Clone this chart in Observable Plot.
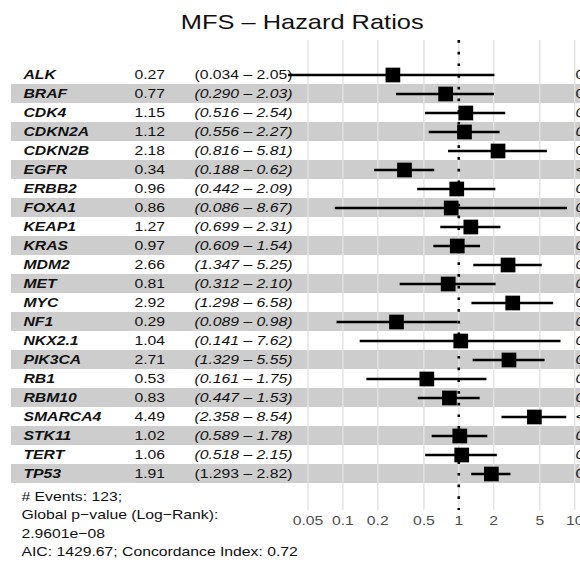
<!DOCTYPE html>
<html>
<head>
<meta charset="utf-8">
<script src="https://cdn.jsdelivr.net/npm/d3@7"></script>
<script src="https://cdn.jsdelivr.net/npm/@observablehq/plot@0.6"></script>
<style>
  html, body { margin: 0; padding: 0; background: #fff; }
  #chart svg { display: block; }
</style>
</head>
<body>
<div id="chart"></div>
<script>
// Cox model results, one row per gene
const genes = ["ALK","BRAF","CDK4","CDKN2A","CDKN2B","EGFR","ERBB2","FOXA1","KEAP1","KRAS","MDM2",
               "MET","MYC","NF1","NKX2.1","PIK3CA","RB1","RBM10","SMARCA4","STK11","TERT","TP53"];
const hazardRatio = [0.27,0.77,1.15,1.12,2.18,0.34,0.96,0.86,1.27,0.97,2.66,
                     0.81,2.92,0.29,1.04,2.71,0.53,0.83,4.49,1.02,1.06,1.91];
const ciLower = [0.034,0.290,0.516,0.556,0.816,0.188,0.442,0.086,0.699,0.609,1.347,
                 0.312,1.298,0.089,0.141,1.329,0.161,0.447,2.358,0.589,0.518,1.293];
const ciUpper = [2.05,2.03,2.54,2.27,5.81,0.62,2.09,8.67,2.31,1.54,5.25,
                 2.10,6.58,0.98,7.62,5.55,1.75,1.53,8.54,1.78,2.15,2.82];
const pLabels = ["0.207","0.598","0.731","0.752","0.120","<0.001 ***","0.917","0.896","0.433","0.893","0.005 **",
                 "0.667","0.010 *","0.043 *","0.970","0.006 **","0.296","0.553","<0.001 ***","0.942","0.870","0.001 **"];

// log-scale axis ticks
const tickValues = [0.05, 0.1, 0.2, 0.5, 1, 2, 5, 10];
const tickLabels = ["0.05", "0.1", "0.2", "0.5", "1", "2", "5", "10"];

const title = "MFS – Hazard Ratios";
const footerLines = [
  "# Events: 123;",
  "Global p−value (Log−Rank):",
  "2.9601e−08",
  "AIC: 1429.67; Concordance Index: 0.72"
];

// rows whose CI / p-value text is set upright rather than italic
const uprightCi = new Set(["ALK", "TP53"]);
const uprightP = new Set(["ALK", "BRAF", "CDKN2B", "TP53"]);

const rows = genes.map((gene, i) => ({
  gene,
  hr: hazardRatio[i],
  lo: ciLower[i],
  hi: ciUpper[i],
  p: pLabels[i],
  hrText: hazardRatio[i].toFixed(2),
  ciText: `(${ciLower[i].toFixed(3)} – ${ciUpper[i].toFixed(2)})`
}));
const striped = rows.filter((d, i) => i % 2 === 1);
const ticks = tickValues.map((v, i) => ({v, label: tickLabels[i]}));

const fs = 13;
const textCol = (data, field, dx, extra = {}) =>
  Plot.text(data, {y: "gene", text: field, frameAnchor: "left", textAnchor: "start",
                   lineAnchor: "middle", dx, fontSize: fs, fill: "#111", ...extra});

const marks = [
  // alternating row shading
  Plot.cell(striped, {y: "gene", fill: "#cdcdcd"}),
  // vertical grid
  Plot.ruleX(tickValues, {stroke: "#e2e2e2", strokeWidth: 1.4}),
  // reference line at HR = 1
  Plot.ruleX([1], {stroke: "#000", strokeWidth: 2.6, strokeDasharray: "2.7 9"}),
  // table columns
  textCol(rows, "gene", 12, {fontWeight: "bold", fontStyle: "italic"}),
  textCol(rows, "hrText", 123),
  textCol(rows.filter(d => !uprightCi.has(d.gene)), "ciText", 183, {fontStyle: "italic"}),
  textCol(rows.filter(d => uprightCi.has(d.gene)), "ciText", 183),
  textCol(rows.filter(d => !uprightP.has(d.gene)), "p", 564, {fontStyle: "italic"}),
  textCol(rows.filter(d => uprightP.has(d.gene)), "p", 564),
  // confidence intervals and point estimates
  Plot.ruleY(rows, {y: "gene", x1: "lo", x2: "hi", stroke: "#000", strokeWidth: 2.4}),
  Plot.dot(rows, {y: "gene", x: "hr", symbol: "square", r: 8.3, fill: "#000", stroke: null}),
  // x axis tick labels
  Plot.text(ticks, {x: "v", text: "label", frameAnchor: "bottom", lineAnchor: "middle",
                    dy: 10.5, fontSize: fs, fill: "#4d4d4d"}),
  // title
  Plot.text([title], {frameAnchor: "top", lineAnchor: "middle", dy: -18.4, dx: 6.2,
                      fontSize: 21, fill: "#111"}),
  // model summary
  ...footerLines.map((line, i) =>
    Plot.text([line], {frameAnchor: "bottom-left", textAnchor: "start", lineAnchor: "middle",
                       dx: 10, dy: -14 + i * 18.6, fontSize: fs, fill: "#111"}))
];

const chart = Plot.plot({
  width: 580,
  height: 563,
  marginTop: 40,
  marginBottom: 53,
  marginLeft: 11,
  marginRight: 0,
  style: {fontFamily: "'Liberation Sans', Arial, Helvetica, sans-serif", background: "#fff"},
  x: {type: "log", domain: [0.05, 10], range: [307.5, 574.2], axis: null},
  y: {type: "band", domain: genes, range: [61.4, 486.0], padding: 0, axis: null},
  marks
});

document.getElementById("chart").appendChild(chart);

// widen glyphs horizontally to the wide text setting of the table
chart.querySelectorAll("text").forEach(t => {
  const w = t.getComputedTextLength();
  if (w > 0) {
    t.setAttribute("textLength", (w * 1.21).toFixed(2));
    t.setAttribute("lengthAdjust", "spacingAndGlyphs");
  }
});
</script>
</body>
</html>
